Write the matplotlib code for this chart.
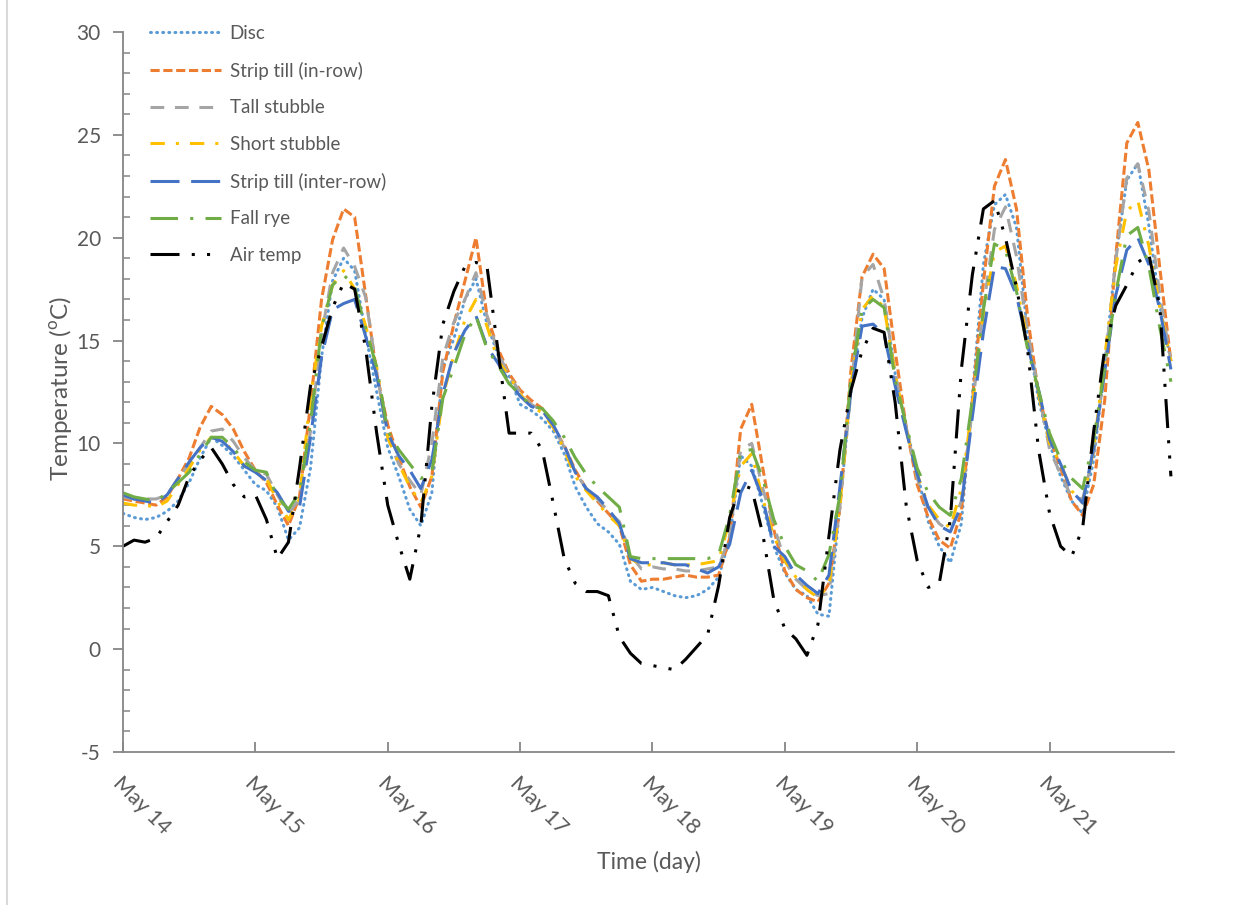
import numpy as np
import matplotlib.pyplot as plt
from matplotlib.lines import Line2D
from matplotlib.ticker import MultipleLocator

plt.rcParams['font.family'] = ['Lato', 'DejaVu Sans']
plt.rcParams['mathtext.fontset'] = 'custom'
plt.rcParams['mathtext.rm'] = 'Lato'
plt.rcParams['axes.unicode_minus'] = False

# readings every 2 hours, May 14 00:00 to May 21 22:00
day_labels = ['May 14', 'May 15', 'May 16', 'May 17', 'May 18', 'May 19', 'May 20', 'May 21']
hours = np.arange(0, 192, 2)

disc = [
    6.6, 6.4, 6.3, 6.4, 6.7, 7.2, 8.1, 9.3, 10.3, 9.9, 9.4, 8.7,
    8.0, 7.7, 6.9, 5.3, 5.9, 8.8, 14.2, 17.9, 19.0, 18.4, 15.3, 12.5,
    9.8, 8.4, 6.8, 6.0, 7.6, 13.7, 15.1, 17.0, 18.0, 15.8, 14.3, 13.3,
    11.9, 11.6, 11.2, 10.6, 9.5, 7.9, 6.9, 6.1, 5.7, 5.1, 3.3, 2.9,
    3.0, 2.8, 2.6, 2.5, 2.6, 2.9, 3.5, 5.4, 9.4, 8.9, 7.0, 5.0,
    3.7, 2.9, 2.6, 1.7, 1.6, 7.0, 12.6, 16.1, 17.5, 17.0, 13.4, 10.8,
    8.6, 6.2, 5.0, 4.2, 6.1, 12.3, 18.7, 21.6, 22.1, 20.5, 15.4, 12.1,
    10.0, 8.4, 7.2, 6.6, 9.2, 13.8, 19.0, 22.8, 23.6, 20.6, 16.7, 14.0,
]
strip_in_row = [
    7.3, 7.2, 7.1, 7.0, 7.4, 8.3, 9.3, 10.8, 11.8, 11.4, 10.7, 9.6,
    8.7, 8.1, 7.0, 6.0, 7.4, 11.9, 17.0, 19.9, 21.4, 21.0, 17.2, 13.4,
    10.9, 9.3, 7.9, 6.9, 8.4, 13.5, 15.8, 17.9, 20.0, 16.2, 14.6, 13.4,
    12.6, 12.1, 11.7, 10.8, 9.9, 8.7, 7.8, 7.2, 6.6, 6.0, 4.1, 3.3,
    3.4, 3.4, 3.5, 3.6, 3.5, 3.5, 3.6, 5.4, 10.7, 11.9, 8.8, 5.8,
    3.8, 2.9, 2.5, 2.3, 3.2, 6.9, 13.6, 18.1, 19.2, 18.5, 14.5, 10.8,
    8.0, 6.4, 5.3, 4.9, 6.7, 12.1, 17.8, 22.5, 23.8, 21.4, 16.2, 12.4,
    10.3, 8.8, 7.2, 6.5, 8.0, 12.1, 19.1, 24.6, 25.6, 23.3, 18.5, 14.0,
]
tall_stubble = [
    7.4, 7.3, 7.3, 7.3, 7.5, 8.3, 9.0, 9.8, 10.6, 10.7, 10.1, 9.3,
    8.7, 8.5, 7.5, 6.6, 7.3, 10.6, 15.3, 18.3, 19.5, 18.6, 17.1, 13.5,
    10.3, 9.0, 8.2, 7.5, 10.0, 14.2, 15.9, 17.0, 18.3, 16.2, 14.4, 13.3,
    12.5, 11.9, 11.6, 10.9, 9.8, 8.6, 7.8, 7.3, 6.7, 6.2, 4.6, 3.9,
    4.0, 3.9, 3.9, 3.8, 3.8, 3.9, 4.0, 5.5, 9.7, 10.0, 7.8, 6.0,
    4.3, 3.4, 2.9, 2.6, 2.7, 7.0, 12.6, 18.1, 18.7, 17.0, 13.4, 10.8,
    8.3, 6.8, 6.1, 5.7, 7.2, 11.7, 16.6, 20.4, 21.5, 19.1, 15.5, 12.5,
    9.7, 8.5, 7.4, 7.3, 9.5, 13.7, 18.9, 22.9, 23.6, 21.3, 17.2, 14.0,
]
short_stubble = [
    7.1, 7.0, 7.0, 6.9, 7.2, 8.0, 8.8, 9.7, 10.3, 10.2, 9.6, 8.9,
    8.6, 8.3, 7.2, 6.3, 7.3, 12.3, 15.7, 17.7, 18.4, 17.5, 15.7, 13.7,
    10.3, 9.0, 7.9, 7.1, 8.4, 12.3, 14.3, 16.0, 17.0, 15.7, 14.0, 13.3,
    12.4, 11.8, 11.5, 10.8, 9.7, 8.4, 7.7, 7.1, 6.5, 6.0, 4.4, 4.1,
    4.1, 4.2, 4.1, 4.1, 4.1, 4.2, 4.3, 6.3, 8.9, 9.5, 7.3, 5.5,
    4.3, 3.5, 2.9, 2.5, 3.1, 7.0, 12.9, 16.5, 17.2, 16.6, 13.4, 10.7,
    8.5, 7.0, 6.3, 5.9, 7.8, 11.8, 16.3, 19.3, 19.6, 17.7, 15.0, 12.4,
    10.0, 9.0, 7.7, 7.1, 9.7, 14.2, 18.6, 21.3, 21.8, 19.6, 16.6, 14.0,
]
strip_inter_row = [
    7.5, 7.3, 7.2, 7.1, 7.5, 8.3, 9.1, 9.8, 10.3, 10.1, 9.6, 8.9,
    8.6, 8.2, 7.6, 6.7, 6.9, 10.3, 14.2, 16.5, 16.8, 17.0, 15.2, 13.3,
    10.5, 9.4, 8.7, 7.8, 9.2, 12.4, 14.4, 15.5, 16.2, 14.7, 13.9, 13.0,
    12.3, 11.8, 11.6, 10.9, 9.9, 8.6, 7.8, 7.4, 6.8, 6.1, 4.4, 4.2,
    4.2, 4.2, 4.1, 4.1, 3.9, 3.7, 4.0, 5.1, 7.6, 8.7, 7.3, 5.0,
    4.5, 3.6, 3.1, 2.7, 3.6, 7.9, 12.6, 15.7, 15.8, 15.3, 12.8, 10.6,
    8.5, 6.9, 6.0, 5.7, 7.0, 11.3, 15.4, 18.6, 18.5, 17.2, 14.8, 12.6,
    10.2, 9.0, 7.7, 7.1, 9.8, 13.5, 17.2, 19.4, 20.0, 18.7, 16.5, 13.6,
]
fall_rye = [
    7.6, 7.4, 7.3, 7.2, 7.6, 8.1, 8.6, 9.5, 10.3, 10.3, 9.8, 9.1,
    8.7, 8.6, 7.4, 6.8, 7.6, 11.0, 15.6, 17.7, 18.2, 17.6, 15.6, 13.7,
    10.6, 9.7, 9.0, 8.3, 8.6, 12.2, 13.7, 15.3, 16.2, 14.6, 13.8, 12.9,
    12.4, 11.8, 11.7, 11.1, 10.3, 9.3, 8.5, 7.9, 7.4, 6.9, 4.5, 4.4,
    4.4, 4.4, 4.4, 4.4, 4.4, 4.4, 4.6, 6.5, 9.6, 9.7, 8.3, 6.3,
    5.0, 4.1, 3.8, 3.3, 4.6, 7.5, 13.2, 16.5, 17.0, 16.6, 13.1, 10.9,
    8.8, 7.6, 6.9, 6.5, 8.3, 12.1, 16.5, 19.7, 19.4, 17.4, 14.6, 12.6,
    10.5, 9.2, 8.3, 7.8, 10.2, 13.7, 17.3, 20.1, 20.5, 18.6, 15.6, 13.0,
]
air_temp = [
    5.0, 5.3, 5.2, 5.4, 6.2, 7.0, 8.4, 9.2, 9.8, 9.0, 8.0, 7.4,
    7.5, 6.3, 4.4, 5.2, 8.8, 12.8, 14.7, 16.6, 17.8, 17.5, 14.6, 10.5,
    7.0, 5.1, 3.4, 6.0, 11.8, 15.8, 17.4, 18.6, 18.8, 18.6, 14.5, 10.5,
    10.5, 10.5, 9.7, 7.1, 4.4, 3.2, 2.8, 2.8, 2.6, 0.6, -0.2, -0.7,
    -0.8, -0.9, -1.0, -0.5, 0.1, 0.7, 3.1, 6.4, 8.0, 7.8, 5.6, 2.4,
    1.0, 0.5, -0.3, 1.2, 5.5, 9.7, 12.6, 14.5, 15.6, 15.4, 12.0, 7.0,
    4.3, 3.0, 3.2, 6.3, 13.6, 18.2, 21.4, 21.8, 20.0, 17.6, 14.6, 9.7,
    6.6, 5.0, 4.5, 5.9, 10.6, 14.6, 16.7, 17.7, 18.8, 19.2, 16.6, 8.4,
]

x = hours / 24

# name, values, colour, dash pattern (in line widths), cap style
styles = [
    ('Disc', disc, '#5B9BD5', (0.3, 1.7), 'round'),
    ('Strip till (in-row)', strip_in_row, '#ED7D31', (3, 1.2), 'butt'),
    ('Tall stubble', tall_stubble, '#A5A5A5', (4.5, 3.5), 'butt'),
    ('Short stubble', short_stubble, '#FFC000', (4.7, 3.6, 1, 3.6), 'butt'),
    ('Strip till (inter-row)', strip_inter_row, '#4472C4', (9.5, 3.8), 'butt'),
    ('Fall rye', fall_rye, '#70AD47', (9, 4, 1, 4), 'butt'),
    ('Air temp', air_temp, '#000000', (9.5, 4, 1, 4, 1, 4), 'butt'),
]

W, H = 1253, 905
fig = plt.figure(figsize=(W / 100, H / 100), dpi=100)
ax = fig.add_axes([123 / W, 1 - 752 / H, (1174 - 123) / W, 720 / H])

for name, vals, color, dashes, cap in styles:
    ax.plot(x, vals, color=color, lw=2.2, dashes=dashes,
            dash_capstyle=cap, label=name)

ax.set_xlim(0, 7.94)
ax.set_ylim(-5, 30)

axis_grey = '#868686'
text_grey = '#595959'
for side in ['top', 'right']:
    ax.spines[side].set_visible(False)
for side in ['left', 'bottom']:
    ax.spines[side].set_color(axis_grey)
    ax.spines[side].set_linewidth(1.3)

ax.set_yticks(range(-5, 31, 5))
ax.yaxis.set_minor_locator(MultipleLocator(1))
ax.tick_params(axis='y', which='major', direction='out', length=7, width=1.3,
               color=axis_grey, labelsize=15, labelcolor=text_grey, pad=9)
ax.tick_params(axis='y', which='minor', direction='in', length=5, width=1.1,
               color=axis_grey)

ax.set_xticks(range(len(day_labels)))
ax.set_xticklabels(day_labels, rotation=-45, ha='left', va='top',
                   rotation_mode='anchor')
ax.tick_params(axis='x', which='major', direction='in', length=7, width=1.3,
               color=axis_grey, labelsize=15.5, labelcolor=text_grey, pad=15)

fig.text(60 / W, 1 - 388 / H, r'Temperature ($^{\mathrm{o}}$C)', rotation=90,
         ha='center', va='center', fontsize=17.5, color=text_grey)
fig.text(649 / W, 1 - 862 / H, 'Time (day)', ha='center', va='center',
         fontsize=16.5, color=text_grey)

ax.legend(loc='upper left', bbox_to_anchor=(0.0257, 1.010), frameon=False,
          fontsize=13.5, handlelength=3.8, handletextpad=0.45,
          labelspacing=1.05, borderpad=0, borderaxespad=0,
          labelcolor=text_grey)

# chart-area border on the left edge
fig.add_artist(Line2D([7 / W, 7 / W], [0, 1], transform=fig.transFigure,
                      color='#d9d9d9', lw=1.5))

fig.savefig('out.png', dpi=100)
